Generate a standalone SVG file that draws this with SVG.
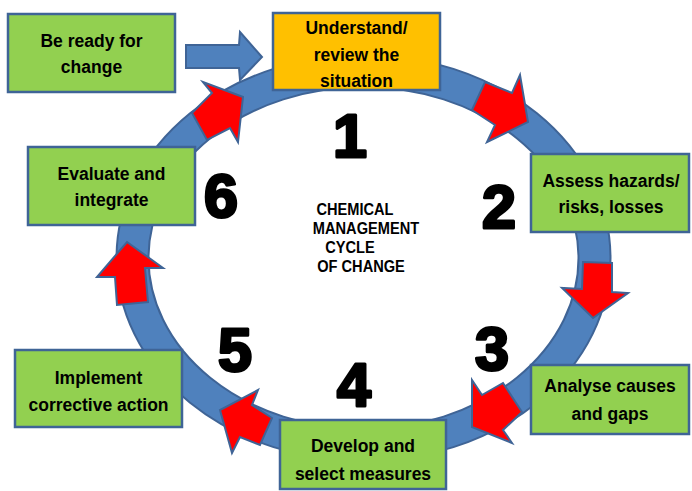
<svg xmlns="http://www.w3.org/2000/svg" width="692" height="491" viewBox="0 0 692 491">
<style>
.box{stroke:#3F6496;stroke-width:2.5}
.green{fill:#92D050}
.orange{fill:#FFC000}
.lbl{font-family:"Liberation Sans",Arial,sans-serif;font-weight:bold;font-size:17.5px;fill:#000;text-anchor:middle}
.num{font-family:"Liberation Sans",Arial,sans-serif;font-weight:bold;font-size:61px;fill:#000;stroke:#000;stroke-width:3;stroke-linejoin:round;text-anchor:middle}
.title{font-family:"Liberation Sans",Arial,sans-serif;font-weight:bold;font-size:17px;fill:#000;text-anchor:middle}
.red{fill:#FF0000;stroke:#3F6496;stroke-width:2;stroke-linejoin:miter}
</style>
<rect width="692" height="491" fill="#FFFFFF"/>
<g id="connectors">
  <ellipse cx="363.5" cy="258" rx="231" ry="187" fill="none" stroke="#3F6496" stroke-width="34"/>
  <ellipse cx="363.5" cy="258" rx="231" ry="187" fill="none" stroke="#4F81BD" stroke-width="30"/>
  <polygon points="186,45 239,45 240,32 262,57 240,80 239,68 186,68" fill="#4F81BD" stroke="#3F6496" stroke-width="2"/>
  <polygon class="red" points="203,82 212,93 192,113 207,140 230,128 238,142 243,97"/>
  <polygon class="red" points="485,82 512,93 520,75 528,122 487,142 495,125 472,110"/>
  <polygon class="red" points="583,262 612,263 612,292 628,293 593,318 562,288 582,289"/>
  <polygon class="red" points="472,380 482,395 503,383 522,412 503,430 512,443 472,427"/>
  <polygon class="red" points="258,390 252,405 272,418 260,445 240,437 232,453 220,410"/>
  <polygon class="red" points="127,242 163,268 145,268 148,302 117,305 115,277 97,277"/>
</g>
<g id="node-ready">
  <rect class="box green" x="8" y="14" width="167" height="78"/>
  <text class="lbl" x="91.5" y="47">Be ready for</text>
  <text class="lbl" x="91.5" y="73">change</text>
</g>
<g id="node-understand">
  <rect class="box orange" x="273" y="13" width="167" height="77"/>
  <text class="lbl" x="356.5" y="34">Understand/</text>
  <text class="lbl" x="356.5" y="61">review the</text>
  <text class="lbl" x="356.5" y="87">situation</text>
</g>
<g id="node-assess">
  <rect class="box green" x="531" y="154" width="158" height="78"/>
  <text class="lbl" x="611" y="187">Assess hazards/</text>
  <text class="lbl" x="611" y="213">risks, losses</text>
</g>
<g id="node-analyse">
  <rect class="box green" x="531" y="365" width="158" height="69"/>
  <text class="lbl" x="610" y="392">Analyse causes</text>
  <text class="lbl" x="610" y="420">and gaps</text>
</g>
<g id="node-develop">
  <rect class="box green" x="280" y="420" width="166" height="69"/>
  <text class="lbl" x="363" y="452">Develop and</text>
  <text class="lbl" x="363" y="480">select measures</text>
</g>
<g id="node-implement">
  <rect class="box green" x="15" y="350" width="167" height="77"/>
  <text class="lbl" x="98.5" y="384">Implement</text>
  <text class="lbl" x="98.5" y="411">corrective action</text>
</g>
<g id="node-evaluate">
  <rect class="box green" x="28" y="147" width="167" height="78"/>
  <text class="lbl" x="111.5" y="180">Evaluate and</text>
  <text class="lbl" x="111.5" y="206">integrate</text>
</g>
<g id="numbers">
  <text class="num" x="350" y="157">1</text>
  <text class="num" x="499" y="228">2</text>
  <text class="num" x="492" y="370">3</text>
  <text class="num" x="354" y="406">4</text>
  <text class="num" x="235" y="371">5</text>
  <text class="num" x="221" y="217">6</text>
</g>
<g id="title" transform="translate(363,0) scale(0.86,1)">
  <text class="title" x="-9.3" y="215">CHEMICAL</text>
  <text class="title" x="3.5" y="234">MANAGEMENT</text>
  <text class="title" x="-15.1" y="253">CYCLE</text>
  <text class="title" x="-2.3" y="272">OF CHANGE</text>
</g>
</svg>
